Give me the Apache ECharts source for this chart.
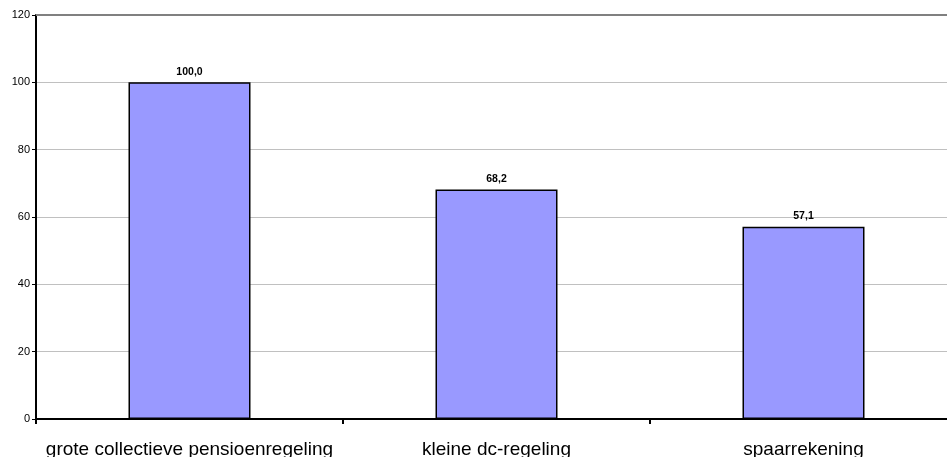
<!DOCTYPE html>
<html><head><meta charset="utf-8">
<script src="https://cdn.jsdelivr.net/npm/echarts@6/dist/echarts.min.js"></script>
<style>html,body{margin:0;padding:0;background:#fff}#c{width:947px;height:457px}</style>
</head><body><div id="c"></div>
<script>
const categories = ['grote collectieve pensioenregeling', 'kleine dc-regeling', 'spaarrekening'];
const values = [100.0, 68.2, 57.1];
const yMin = 0, yMax = 120, yInterval = 20;

const chart = echarts.init(document.getElementById('c'), null, {renderer: 'canvas'});
chart.setOption({
  animation: false,
  grid: {left: 36, width: 921, top: 15, bottom: 38, containLabel: false, outerBoundsMode: 'none'},
  xAxis: {
    type: 'category', data: categories,
    axisLine: {lineStyle: {color: '#000', width: 2}},
    axisTick: {show: true, alignWithLabel: false, length: 5, lineStyle: {color: '#000', width: 2}},
    axisLabel: {interval: 0, hideOverlap: false, fontFamily: 'Liberation Sans, Arial', fontSize: 19, color: '#000', margin: 21}
  },
  yAxis: {
    type: 'value', min: yMin, max: yMax, interval: yInterval,
    axisLine: {show: true, lineStyle: {color: '#000', width: 2}},
    axisTick: {show: true, length: 4, lineStyle: {color: '#000', width: 1}},
    axisLabel: {fontFamily: 'Liberation Sans, Arial', fontSize: 11, color: '#000', margin: 6},
    splitLine: {show: true, lineStyle: {color: '#c0c0c0', width: 1}}
  },
  series: [{
    type: 'bar', data: values, barWidth: 122,
    itemStyle: {color: '#9999ff', borderColor: '#000', borderWidth: 1.5},
    label: {show: true, position: 'top', distance: 5,
      formatter: p => p.value.toFixed(1).replace('.', ','),
      fontFamily: 'Liberation Sans, Arial', fontSize: 10.5, fontWeight: 'bold', color: '#000'},
    markLine: {silent: true, symbol: 'none', label: {show: false},
      lineStyle: {color: '#808080', width: 2, type: 'solid'},
      data: [{yAxis: yMax}]}
  }]
});
</script></body></html>
